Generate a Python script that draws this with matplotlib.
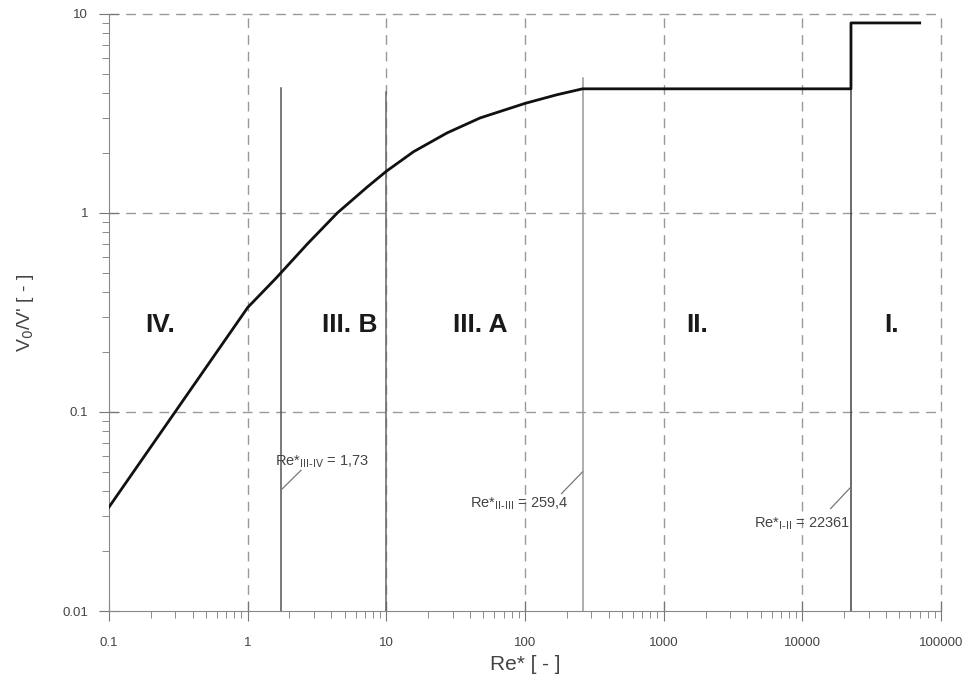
import matplotlib
matplotlib.use('Agg')
from matplotlib import pyplot as plt
from matplotlib.ticker import LogLocator, NullFormatter

plt.rcParams['font.family'] = ['Liberation Sans', 'DejaVu Sans']

# curve V0/V' over Re*
re = [0.1, 1.0, 1.6, 2.7, 4.43, 7.28, 10, 15.7, 27.3, 47.4, 100, 169, 259.4, 22361, 22361, 70000]
v = [0.0333, 0.335, 0.47, 0.70, 1.0, 1.35, 1.62, 2.03, 2.52, 3.0, 3.55, 3.92, 4.2, 4.2, 9.0, 9.0]

# boundary lines (x, top)
bound_x = [1.73, 10, 259.4, 22361]
bound_top = [4.23, 4.04, 4.75, 9.0]
bound_col = ['#555555', '#666666', '#999999', '#444444']

regions = ['IV.', 'III. B', 'III. A', 'II.', 'I.']
region_x = [0.234, 5.43, 47.4, 1750, 44000]
region_y = 0.273

xticks = [0.1, 1, 10, 100, 1000, 10000, 100000]
xlabels = ['0.1', '1', '10', '100', '1000', '10000', '100000']
yticks = [0.01, 0.1, 1, 10]
ylabels = ['0.01', '0.1', '1', '10']

fig = plt.figure(figsize=(9.71, 6.88), dpi=100)
ax = fig.add_axes([0.1123, 0.1119, 0.857, 0.868])
ax.set_xscale('log')
ax.set_yscale('log')
ax.set_xlim(0.1, 100000)
ax.set_ylim(0.01, 10)

# dashed grid
for g in xticks[1:]:
    ax.axvline(g, color='#999999', lw=1, ls=(0, (7, 5)), zorder=1, clip_on=False)
for g in yticks[1:]:
    ax.axhline(g, color='#999999', lw=1, ls=(0, (7, 5)), zorder=1, clip_on=False)

for x, t, c in zip(bound_x, bound_top, bound_col):
    ax.plot([x, x], [0.01, t], color=c, lw=1.1, zorder=2)

ax.plot(re, v, color='#111111', lw=2, zorder=3)

for r, x in zip(regions, region_x):
    ax.text(x, region_y, r, fontsize=19, fontweight='bold', color='#1a1a1a',
            ha='center', va='center')

# annotations with leader lines
ax.plot([1.73, 2.42], [0.0404, 0.0509], color='#777777', lw=0.9)
ax.text(1.58, 0.056, r"Re*$_{\rm III\text{-}IV}$ = 1,73", fontsize=10.5, color='#444444',
        ha='left', va='center')
ax.plot([259.4, 183], [0.05, 0.0389], color='#777777', lw=0.9)
ax.text(205, 0.0348, r"Re*$_{\rm II\text{-}III}$ = 259,4", fontsize=10.5, color='#444444',
        ha='right', va='center')
ax.plot([22361, 15950], [0.042, 0.0327], color='#777777', lw=0.9)
ax.text(22000, 0.0275, r"Re*$_{\rm I\text{-}II}$ = 22361", fontsize=10.5, color='#444444',
        ha='right', va='center')

for s in ['top', 'right']:
    ax.spines[s].set_visible(False)
for s in ['left', 'bottom']:
    ax.spines[s].set_color('#888888')

ax.set_xticks(xticks, xlabels)
ax.set_yticks(yticks, ylabels)
ax.xaxis.set_minor_locator(LogLocator(base=10, subs=range(2, 10), numticks=20))
ax.yaxis.set_minor_locator(LogLocator(base=10, subs=range(2, 10), numticks=20))
ax.xaxis.set_minor_formatter(NullFormatter())
ax.yaxis.set_minor_formatter(NullFormatter())
ax.tick_params(which='major', direction='inout', length=14, color='#777777',
               labelsize=9.5, labelcolor='#444444')
ax.tick_params(axis='x', which='major', pad=12)
ax.tick_params(axis='y', which='major', pad=8)
ax.tick_params(which='minor', direction='out', length=5, color='#777777')

ax.set_xlabel('Re* [ - ]', fontsize=15, color='#444444', labelpad=4)
ax.set_ylabel("V$_0$/V' [ - ]", fontsize=14, color='#444444', labelpad=19)

fig.savefig('out.png', dpi=100)
